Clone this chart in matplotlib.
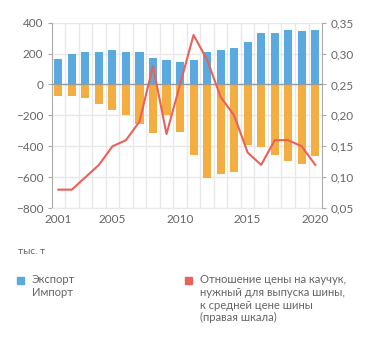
import numpy as np
import matplotlib.pyplot as plt

plt.rcParams['font.family'] = ['Lato', 'DejaVu Sans']

years = np.arange(2001, 2021)
export = [166, 198, 213, 213, 226, 209, 209, 170, 159, 146,
          159, 211, 226, 234, 273, 331, 335, 353, 344, 353]
imports = [-77, -73, -88, -125, -163, -196, -256, -316, -196, -305,
           -454, -604, -581, -566, -389, -402, -454, -493, -516, -462]
price_ratio = [0.08, 0.08, 0.10, 0.12, 0.15, 0.16, 0.19, 0.28, 0.17, 0.25,
               0.33, 0.29, 0.23, 0.20, 0.14, 0.12, 0.16, 0.16, 0.15, 0.12]

BLUE = '#5aa9df'
ORANGE = '#f4ad40'
RED = '#e9615a'
GRID = '#e8e8e8'
TXT = '#666666'

fig = plt.figure(figsize=(3.71, 3.43), dpi=100)
ax = fig.add_axes([0.139, 0.393, 0.729, 0.541])

ax.bar(years, export, width=0.6, color=BLUE, zorder=2)
ax.bar(years, imports, width=0.6, color=ORANGE, zorder=2)
ax.axhline(0, color='#9a9a9a', lw=1, zorder=3)

ax.set_xlim(2000.5, 2020.5)
ax.set_ylim(-800, 400)
ax.set_yticks(np.arange(-800, 401, 200))
ax.set_xticks([2001, 2005, 2010, 2015, 2020])
ax.set_xticks(np.arange(2001.5, 2020.5, 1), minor=True)
ax.grid(axis='y', color=GRID, lw=1, zorder=0)
ax.grid(axis='x', which='minor', color=GRID, lw=1, zorder=0)
ax.tick_params(axis='x', which='both', length=0, labelsize=8.5, colors=TXT, pad=4)
ax.tick_params(axis='y', length=3, width=0.8, color='#aaaaaa', labelsize=8.5,
               labelcolor=TXT, pad=3)
for s in ['top', 'right']:
    ax.spines[s].set_visible(False)
ax.spines['bottom'].set_color(GRID)
ax.spines['left'].set_color('#aaaaaa')

ax2 = ax.twinx()
ax2.plot(years, price_ratio, color=RED, lw=1.5, zorder=4)
ax2.set_ylim(0.05, 0.35)
ax2.set_yticks(np.arange(0.05, 0.351, 0.05))
ax2.set_yticklabels([f'{v:.2f}'.replace('.', ',') for v in np.arange(0.05, 0.351, 0.05)])
ax2.tick_params(axis='y', length=3, width=0.8, color='#aaaaaa', labelsize=8.5,
                labelcolor=TXT, pad=3)
for s in ['top', 'left', 'bottom']:
    ax2.spines[s].set_visible(False)
ax2.spines['right'].set_color('#aaaaaa')

# units and legend below the plot
fig.text(18 / 371, 1 - 252 / 343, 'тыс. т', fontsize=7.2, color=TXT, va='center')
fig.patches.append(plt.Rectangle((17 / 371, 1 - 284 / 343), 7 / 371, 7 / 343,
                                 transform=fig.transFigure, color=BLUE))
fig.text(32 / 371, 1 - 274 / 343, 'Экспорт\nИмпорт', fontsize=8.1, color=TXT,
         va='top', linespacing=1.2)
fig.patches.append(plt.Rectangle((185 / 371, 1 - 284 / 343), 7 / 371, 7 / 343,
                                 transform=fig.transFigure, color=RED))
fig.text(200 / 371, 1 - 274 / 343,
         'Отношение цены на каучук,\nнужный для выпуска шины,\nк средней цене шины\n(правая шкала)',
         fontsize=8.1, color=TXT, va='top', linespacing=1.2)

fig.savefig('out.png', dpi=100)
